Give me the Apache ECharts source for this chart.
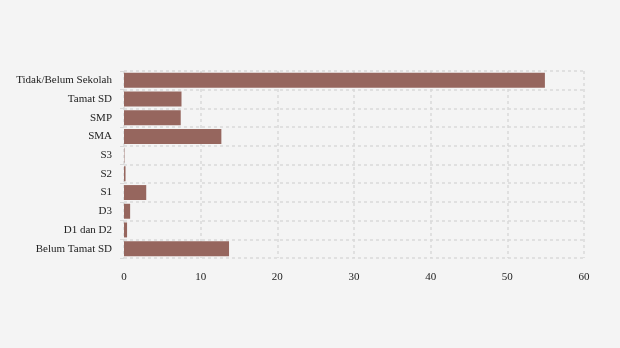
<!DOCTYPE html>
<html>
<head>
<meta charset="utf-8">
<script src="https://cdn.jsdelivr.net/npm/echarts@6/dist/echarts.min.js"></script>
<style>
  html, body { margin: 0; padding: 0; background: #f4f4f4; }
  #chart { width: 620px; height: 348px; }
</style>
</head>
<body>
<div id="chart"></div>
<script>
// Education level categories, bottom to top
const categories = ['Belum Tamat SD', 'D1 dan D2', 'D3', 'S1', 'S2', 'S3', 'SMA', 'SMP', 'Tamat SD', 'Tidak/Belum Sekolah'];
// Share per category (%)
const values = [13.7, 0.4, 0.8, 2.9, 0.2, 0.05, 12.7, 7.4, 7.5, 54.9];
const xTicks = { min: 0, max: 60, interval: 10 };

const chart = echarts.init(document.getElementById('chart'), null, { renderer: 'canvas' });
const font = '"Liberation Serif", "Times New Roman", serif';
chart.setOption({
  backgroundColor: '#f4f4f4',
  animation: false,
  grid: { left: 124, right: 36, top: 71, bottom: 90 },
  xAxis: {
    type: 'value',
    min: xTicks.min, max: xTicks.max, interval: xTicks.interval,
    axisLine: { show: false },
    axisTick: { show: false },
    axisLabel: { color: '#222', fontFamily: font, fontSize: 11, margin: 14 },
    splitLine: { show: true, lineStyle: { color: '#d9d9d9', type: [3, 3], width: 1.5 } }
  },
  yAxis: {
    type: 'category',
    data: categories,
    axisLine: { show: false },
    axisTick: { show: true, length: 4, lineStyle: { color: '#d9d9d9' } },
    axisLabel: { color: '#222', fontFamily: font, fontSize: 11, margin: 12 },
    splitLine: { show: true, lineStyle: { color: '#d9d9d9', type: [3, 3], width: 1.5 } }
  },
  series: [{
    type: 'bar',
    data: values,
    barCategoryGap: '20%',
    itemStyle: { color: '#96665e' }
  }]
});
</script>
</body>
</html>
